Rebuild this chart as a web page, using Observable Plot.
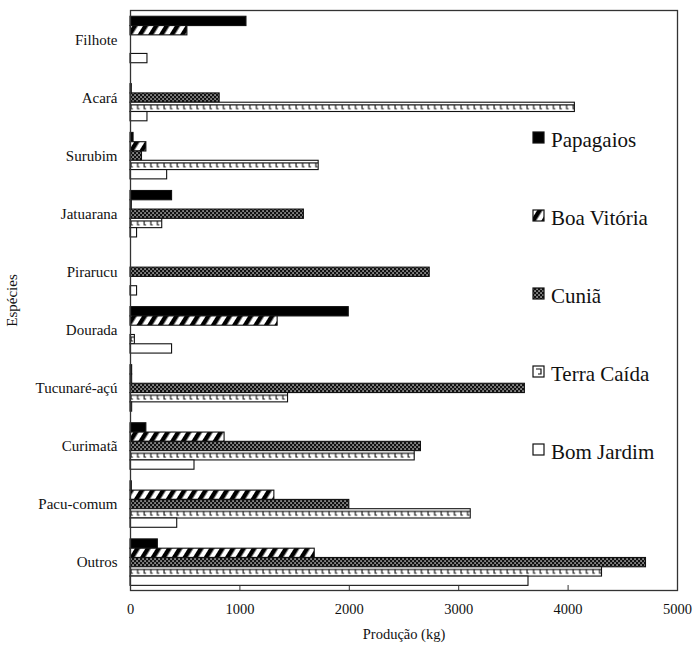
<!DOCTYPE html>
<html><head><meta charset="utf-8">
<script src="https://cdn.jsdelivr.net/npm/d3@7"></script>
<script src="https://cdn.jsdelivr.net/npm/@observablehq/plot@0.6"></script>
<style>
body{margin:0;background:#fff}
#chart{position:relative;width:697px;height:647px}
</style>
</head><body><div id="chart"></div>
<script>
const species = ["Filhote","Acará","Surubim","Jatuarana","Pirarucu","Dourada","Tucunaré-açú","Curimatã","Pacu-comum","Outros"];
const series = ["Papagaios","Boa Vitória","Cuniã","Terra Caída","Bom Jardim"];
const papagaios  = [1060, 0,   28,  380, 0,    1995, 15,   145,  12,   250];
const boaVitoria = [520,  12,  145, 12,  0,    1345, 15,   860,  1315, 1684];
const cunia      = [0,    815, 105, 1585,2735, 0,    3605, 2655, 2000, 4712];
const terraCaida = [0,    4062,1720,290, 0,    40,   1440, 2598, 3110, 4310];
const bomJardim  = [155,  155, 335, 60,  60,   380,  15,   585,  427,  3638];
const xTicks = [0, 1000, 2000, 3000, 4000, 5000];

const seriesValues = [papagaios, boaVitoria, cunia, terraCaida, bomJardim];
const fills = ["#000", "url(#pBV)", "url(#pCU)", "url(#pTC)", "#fff"];
const w = 0.16; // bar thickness in category units

const rows = species.flatMap((s, i) => seriesValues.map((arr, j) => ({i, j, species: s, series: series[j], v: arr[i]})))
  .filter(r => r.v > 0);

const font = "'Liberation Serif', 'Times New Roman', serif";

const plot = Plot.plot({
  width: 697, height: 647,
  marginLeft: 130, marginRight: 20, marginTop: 10, marginBottom: 57,
  style: {fontFamily: font, fontSize: "14px", color: "#111", background: "#fff"},
  x: {domain: [0, 5000]},
  y: {domain: [9.48, -0.508]},
  marks: [
    ...series.map((name, j) => Plot.rect(rows.filter(r => r.j === j), {
      x1: () => 0, x2: "v",
      y1: r => r.i + (r.j - 2.5) * w,
      y2: r => r.i + (r.j - 1.5) * w,
      fill: fills[j], stroke: "#111", strokeWidth: 1.1
    })),
    Plot.tickX(xTicks, {x: d => d, stroke: "#333", insetTop: 575}),
    Plot.frame({stroke: "#333", strokeWidth: 1.3}),
    Plot.axisX(xTicks, {tickSize: 0, tickPadding: 13, fontSize: 14.5, tickFormat: d => String(d), label: "Produção (kg)", labelAnchor: "center", labelArrow: "none", labelOffset: 48}),
    Plot.axisY(species.map((d, i) => i), {tickSize: 0, tickPadding: 13, fontSize: 15, tickFormat: i => species[i], label: "Espécies", labelAnchor: "center", labelArrow: "none", labelOffset: 124})
  ]
});

document.getElementById("chart").appendChild(plot);
const svg = d3.select(plot);
const defs = svg.insert("defs", ":first-child");

// Boa Vitória: diagonal stripes
const pBV = defs.append("pattern").attr("id", "pBV").attr("patternUnits", "userSpaceOnUse")
  .attr("width", 9).attr("height", 9).attr("patternTransform", "rotate(32)");
pBV.append("rect").attr("width", 9).attr("height", 9).attr("fill", "#fff");
pBV.append("rect").attr("width", 4.5).attr("height", 9).attr("fill", "#000");

// Cuniã: dark checker
const pCU = defs.append("pattern").attr("id", "pCU").attr("patternUnits", "userSpaceOnUse")
  .attr("width", 4).attr("height", 4);
pCU.append("rect").attr("width", 4).attr("height", 4).attr("fill", "#111");
pCU.append("rect").attr("x", 0.4).attr("y", 0.4).attr("width", 1.3).attr("height", 1.3).attr("fill", "#fff");
pCU.append("rect").attr("x", 2.4).attr("y", 2.4).attr("width", 1.3).attr("height", 1.3).attr("fill", "#fff");

// Terra Caída: per-bar aligned key pattern
function addTC(id, x, y, h) {
  const p = defs.append("pattern").attr("id", id).attr("patternUnits", "userSpaceOnUse")
    .attr("x", x).attr("y", y).attr("width", 6.6).attr("height", h);
  p.append("rect").attr("width", 6.6).attr("height", h).attr("fill", "#fff");
  p.append("path").attr("d", `M0,2.6H6.6M1,2.6V${h - 2.8}H3`).attr("stroke", "#111").attr("stroke-width", 1.1).attr("fill", "none");
}
addTC("pTC", 0, 0, 9.3);
svg.selectAll('g[fill="url(#pTC)"] rect').each(function(d, k) {
  const r = d3.select(this);
  const id = "pTC" + k;
  addTC(id, +r.attr("x"), +r.attr("y"), +r.attr("height"));
  r.attr("fill", `url(#${id})`);
});

// Legend (inside plot area, right side)
const lg = svg.append("g").style("font-family", font).style("font-size", "21px").attr("fill", "#111").attr("text-anchor", "start");
const legendY = [140, 218, 296, 374, 452];
series.forEach((name, j) => {
  const y = legendY[j];
  const sw = 11, sx = 533, sy = y - 8;
  if (j === 3) {
    lg.append("rect").attr("x", sx).attr("y", sy).attr("width", sw).attr("height", sw).attr("fill", "#fff").attr("stroke", "#111").attr("stroke-width", 1.2);
    lg.append("path").attr("d", `M${sx + 3},${sy + 3}H${sx + 8}V${sy + 8}H${sx + 5}`).attr("stroke", "#111").attr("stroke-width", 1.2).attr("fill", "none");
  } else {
    lg.append("rect").attr("x", sx).attr("y", sy).attr("width", sw).attr("height", sw).attr("fill", fills[j]).attr("stroke", "#111").attr("stroke-width", 1.2);
  }
  lg.append("text").attr("x", 551).attr("y", y).attr("dy", "0.32em").attr("text-anchor", "start").style("font-family", font).text(name);
});
</script>
</body></html>
